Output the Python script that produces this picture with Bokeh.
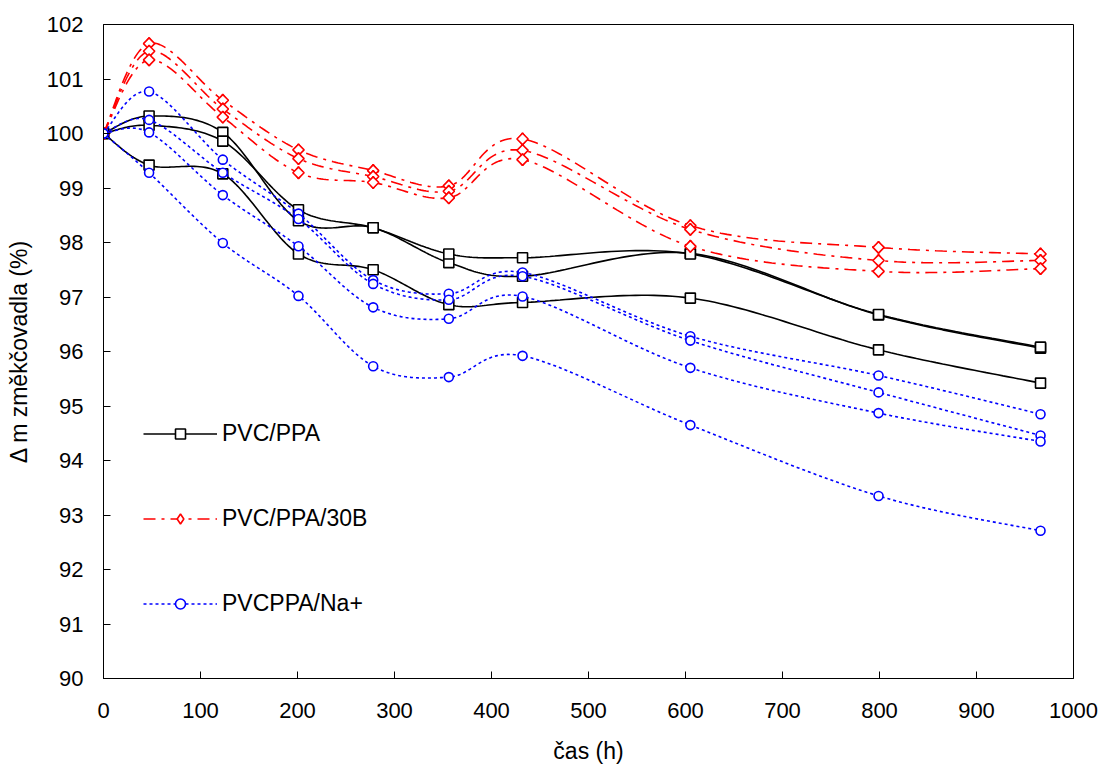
import numpy as np
from bokeh.plotting import figure
from bokeh.models import Range1d, FixedTicker, Legend, LegendItem
from bokeh.embed import file_html
from bokeh.resources import INLINE

# ---- data ----
hours = [0, 47, 123, 201, 278, 356, 432, 605, 799, 966]

ppa_1 = [100, 100.32, 100.02, 98.40, 98.27, 97.63, 97.38, 97.80, 96.67, 96.06]
ppa_2 = [100, 100.15, 99.86, 98.60, 98.27, 97.79, 97.72, 97.79, 96.68, 96.08]
ppa_3 = [100, 99.42, 99.26, 97.79, 97.50, 96.86, 96.90, 96.98, 96.03, 95.42]

b30_1 = [100, 101.65, 100.61, 99.70, 99.32, 99.04, 99.90, 98.31, 97.91, 97.79]
b30_2 = [100, 101.51, 100.45, 99.54, 99.21, 98.94, 99.69, 98.24, 97.67, 97.67]
b30_3 = [100, 101.35, 100.30, 99.28, 99.10, 98.82, 99.52, 97.93, 97.47, 97.52]

na_1 = [100, 100.77, 99.52, 98.53, 97.31, 97.06, 97.45, 96.28, 95.56, 94.85]
na_2 = [100, 100.25, 99.28, 98.43, 97.24, 96.95, 97.38, 96.20, 95.25, 94.46]
na_3 = [100, 100.02, 98.87, 97.93, 96.81, 96.60, 97.01, 95.70, 94.87, 94.35]
na_4 = [100, 99.28, 97.99, 97.02, 95.73, 95.53, 95.92, 94.65, 93.35, 92.71]

x_ticks = list(range(0, 1001, 100))
y_ticks = list(range(90, 103))

labels = ["PVC/PPA", "PVC/PPA/30B", "PVCPPA/Na+"]
FONT = "Liberation Sans"


def smooth(xs, ys, n=30):
    """Smoothed (Bezier, Catmull-Rom style) drawing path through the data points."""
    xs = np.asarray(xs, float)
    ys = np.asarray(ys, float)
    m = len(xs)
    ox, oy = [], []
    for i in range(m - 1):
        i0 = max(i - 1, 0)
        i3 = min(i + 2, m - 1)
        p0x, p0y = xs[i], ys[i]
        p3x, p3y = xs[i + 1], ys[i + 1]
        c1x = p0x + (xs[i + 1] - xs[i0]) / 6.0
        c1y = p0y + (ys[i + 1] - ys[i0]) / 6.0
        c2x = p3x - (xs[i3] - xs[i]) / 6.0
        c2y = p3y - (ys[i3] - ys[i]) / 6.0
        t = np.linspace(0, 1, n, endpoint=(i == m - 2))
        a = (1 - t) ** 3
        b = 3 * (1 - t) ** 2 * t
        c = 3 * (1 - t) * t ** 2
        d = t ** 3
        ox.extend(a * p0x + b * c1x + c * c2x + d * p3x)
        oy.extend(a * p0y + b * c1y + c * c2y + d * p3y)
    return ox, oy


p = figure(width=1102, height=767, output_backend="svg", toolbar_location=None,
           x_range=Range1d(0, 1000), y_range=Range1d(90, 102),
           min_border_left=103, min_border_right=29,
           min_border_top=24, min_border_bottom=89)

p.xgrid.visible = False
p.ygrid.visible = False
p.outline_line_color = "black"
p.outline_line_width = 1
p.background_fill_color = "white"
p.border_fill_color = "white"

p.xaxis.ticker = FixedTicker(ticks=x_ticks)
p.yaxis.ticker = FixedTicker(ticks=y_ticks)
for ax in (p.xaxis, p.yaxis):
    ax.major_tick_in = 7
    ax.major_tick_out = 0
    ax.minor_tick_in = 0
    ax.minor_tick_out = 0
    ax.axis_line_color = "black"
    ax.axis_line_width = 1
    ax.major_tick_line_color = "black"
    ax.major_label_text_font = FONT
    ax.major_label_text_font_size = "22px"
    ax.major_label_text_color = "black"
    ax.axis_label_text_font = FONT
    ax.axis_label_text_font_size = "23px"
    ax.axis_label_text_font_style = "normal"
    ax.axis_label_text_color = "black"

p.xaxis.axis_label = "čas (h)"
p.yaxis.axis_label = "Δ m změkčovadla (%)"
p.xaxis.major_label_standoff = 24
p.xaxis.axis_label_standoff = 17
p.yaxis.major_label_standoff = 20
p.yaxis.axis_label_standoff = 12

items = []

# PVC/PPA: solid black, open squares
key_line = key_mark = None
for ys in [ppa_1, ppa_2, ppa_3]:
    sx, sy = smooth(hours, ys)
    lr = p.line(sx, sy, line_color="black", line_width=1.6)
    mr = p.scatter(hours, ys, marker="square", size=10,
                   line_color="black", line_width=1.6, fill_color="white")
    if key_line is None:
        key_line, key_mark = lr, mr
items.append(LegendItem(label=labels[0], renderers=[key_line, key_mark]))

# PVC/PPA/30B: red dash-dot, open diamonds
key_line = key_mark = None
for ys in [b30_1, b30_2, b30_3]:
    sx, sy = smooth(hours, ys)
    lr = p.line(sx, sy, line_color="red", line_width=1.6, line_dash="12 6 3 6")
    mr = p.scatter(hours, ys, marker="diamond", size=12,
                   line_color="red", line_width=1.6, fill_color="white")
    p.scatter(hours, ys, marker="square", size=8, angle=np.pi / 4,
              line_color="red", line_width=1.6, fill_color="white")
    if key_line is None:
        key_line, key_mark = lr, mr
items.append(LegendItem(label=labels[1], renderers=[key_line, key_mark]))

# PVCPPA/Na+: blue dotted, open circles
key_line = key_mark = None
for ys in [na_1, na_2, na_3, na_4]:
    sx, sy = smooth(hours, ys)
    lr = p.line(sx, sy, line_color="blue", line_width=1.6, line_dash="3 3")
    mr = p.scatter(hours, ys, marker="circle", size=9,
                   line_color="blue", line_width=1.6, fill_color="white")
    if key_line is None:
        key_line, key_mark = lr, mr
items.append(LegendItem(label=labels[2], renderers=[key_line, key_mark]))

legend = Legend(items=items, location=(40, 61))
legend.background_fill_alpha = 0
legend.border_line_alpha = 0
legend.padding = 0
legend.margin = 0
legend.spacing = 58
legend.glyph_width = 74
legend.glyph_height = 25
legend.label_height = 25
legend.label_standoff = 5
legend.label_text_font = FONT
legend.label_text_font_size = "23px"
legend.label_text_color = "black"
p.add_layout(legend)

open("out.html", "w").write(file_html(p, INLINE))
